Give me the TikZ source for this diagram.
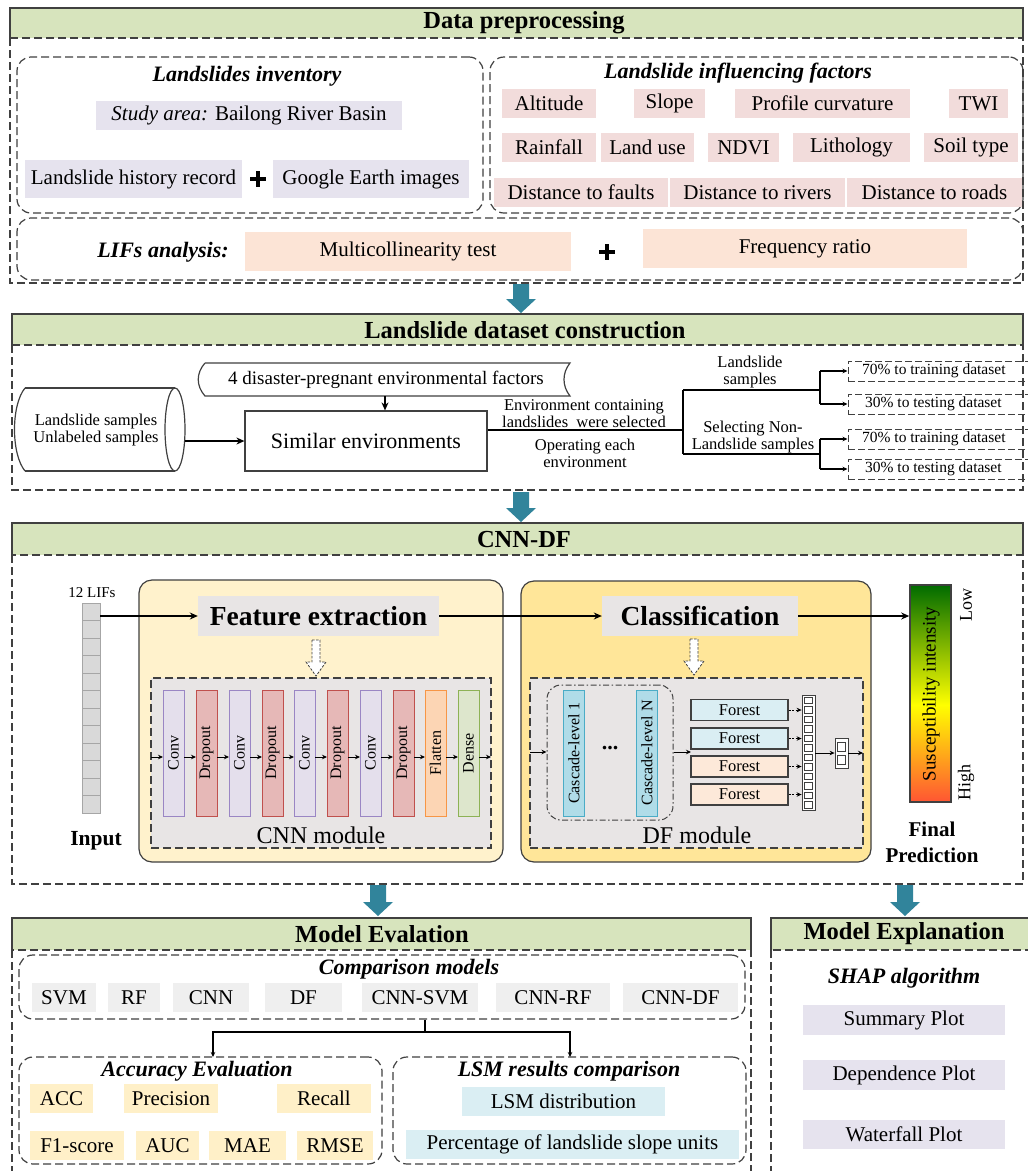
\documentclass[tikz,border=0pt]{standalone}
\usepackage{fontspec}
\setmainfont{Liberation Serif}
\usetikzlibrary{arrows.meta,calc}
\definecolor{barg}{HTML}{D7E4BD}
\definecolor{pinkf}{HTML}{F2DCDB}
\definecolor{lavf}{HTML}{E6E3EE}
\definecolor{peachf}{HTML}{FCE4D6}
\definecolor{teal1}{HTML}{31849B}
\definecolor{lgray}{HTML}{E8E5E5}
\definecolor{yel1}{HTML}{FFF2CC}
\definecolor{yel2}{HTML}{FFE699}
\definecolor{cmpf}{HTML}{EFEFEF}
\definecolor{accf}{HTML}{FFF0C8}
\definecolor{lsmf}{HTML}{DAEEF3}
\definecolor{lc}{HTML}{404040}
\definecolor{convf}{HTML}{E4DFEC}
\definecolor{convd}{HTML}{9A86C4}
\definecolor{dropf}{HTML}{E6B8B7}
\definecolor{dropd}{HTML}{C0504D}
\definecolor{flatf}{HTML}{FCD5B4}
\definecolor{flatd}{HTML}{F79646}
\definecolor{densef}{HTML}{DDE6CC}
\definecolor{densed}{HTML}{8DB255}
\definecolor{casf}{HTML}{B0DCE8}
\definecolor{casd}{HTML}{4BACC6}
\definecolor{forb}{HTML}{DAEEF3}
\definecolor{forp}{HTML}{FDE9D9}
\definecolor{cbg}{HTML}{006B00}
\definecolor{cbr}{HTML}{FF5533}
\definecolor{cellf}{HTML}{D9D9D9}
\newcommand\mybox[7][]{\node[#1, minimum width={#4-#2}, minimum height={#5-#3}] (#6) at ({(#2+#4)/2},{(#3+#5)/2}) {#7};}
\newcommand\tealarr[3]{\fill[teal1] ({#1-8},#2) -- ({#1+8},#2) -- ({#1+8},{#3-14}) -- ({#1+15},{#3-14}) -- (#1,#3) -- ({#1-15},{#3-14}) -- ({#1-8},{#3-14}) -- cycle;}
\newcommand\hollowarr[3]{\draw[lc, line width=0.8pt, dash pattern=on 2.5pt off 1.5pt, fill=white] ({#1-4},#2) -- ({#1+4},#2) -- ({#1+4},{#3-14}) -- ({#1+10},{#3-14}) -- (#1,#3) -- ({#1-10},{#3-14}) -- ({#1-4},{#3-14}) -- cycle;}
\newcommand\bplus[2]{\draw[line width=4.5pt] ({#1-8},#2) -- ({#1+8},#2) ({#1},{#2-8}) -- ({#1},{#2+8});}
\newcommand\secbar[5]{%
 \fill[barg] (#1,#2) rectangle (#3,#4);
 \draw[lc, line width=1.3pt] (#1,#4) -- (#1,#2) -- (#3,#2) -- (#3,#4);
 \draw[dbox] (#1,#4) rectangle (#3,#5);}
\tikzset{
 every node/.style={font=\fontsize{21}{24}\selectfont, inner sep=0pt},
 dbox/.style={draw=lc, line width=1.2pt, dash pattern=on 8pt off 4pt},
 rdbox/.style={dbox, rounded corners=14pt},
 ttl/.style={font=\fontsize{24.5}{26}\selectfont\bfseries},
 sub/.style={font=\fontsize{22}{24}\selectfont\bfseries\itshape},
 sm/.style={font=\fontsize{16.5}{17}\selectfont},
 dsbox/.style={draw=lc, line width=1pt, dash pattern=on 7pt off 3pt},
 dstext/.style={font=\fontsize{15.5}{16}\selectfont, anchor=west},
 pinkb/.style={fill=pinkf},
 lavb/.style={fill=lavf},
 peachb/.style={fill=peachf},
 cmpb/.style={fill=cmpf},
 accb/.style={fill=accf},
 lsmb/.style={fill=lsmf},
 arr/.style={-{Stealth[length=8pt,width=7pt]}, line width=1.2pt},
 sarr/.style={-{Stealth[length=5pt,width=4.5pt]}, line width=0.9pt},
 layer/.style={minimum width=126, minimum height=21, line width=1pt, font=\fontsize{16}{16}\selectfont},
 conv/.style={fill=convf, draw=convd},
 drop/.style={fill=dropf, draw=dropd},
 flat/.style={fill=flatf, draw=flatd},
 dense/.style={fill=densef, draw=densed},
 forest/.style={draw=lc, line width=1.4pt, minimum width=97, minimum height=21, font=\fontsize{16.5}{17}\selectfont},
 tiny/.style={draw=lc, line width=0.8pt, fill=white},
}
\begin{document}
\begin{tikzpicture}[x=1pt,y=-1pt]
\useasboundingbox (0,0) rectangle (1028,1171);
\fill[white] (0,0) rectangle (1028,1171);

% ===== Section 1: Data preprocessing
\secbar{10}{8}{1023}{38}{283}
\node[ttl] (t1) at (524,23) {Data preprocessing};
\mybox[rdbox]{17}{57}{483}{213}{inv}{}
\node[sub] (invt) at (247,76) {Landslides inventory};
\mybox[lavb]{96}{101}{402}{130}{study}{\textit{Study area:} Bailong River Basin}
\mybox[lavb]{25}{160}{242}{198}{hist}{Landslide history record}
\bplus{258}{179}
\mybox[lavb]{273}{160}{469}{198}{ge}{Google Earth images}

\mybox[rdbox]{490}{57}{1023}{213}{lif}{}
\node[sub] (lift) at (738,73) {Landslide influencing factors};
\mybox[pinkb]{502}{89}{596}{118}{f1}{Altitude}
\mybox[pinkb]{634}{89}{705}{118}{f2}{Slope}
\mybox[pinkb]{735}{89}{910}{118}{f3}{Profile curvature}
\mybox[pinkb]{949}{89}{1008}{118}{f4}{TWI}
\mybox[pinkb]{502}{133}{596}{162}{f5}{Rainfall}
\mybox[pinkb]{601}{133}{694}{162}{f6}{Land use}
\mybox[pinkb]{708}{133}{779}{162}{f7}{NDVI}
\mybox[pinkb]{793}{133}{910}{162}{f8}{Lithology}
\mybox[pinkb]{924}{133}{1018}{162}{f9}{Soil type}
\mybox[pinkb]{494}{178}{668}{207}{f10}{Distance to faults}
\mybox[pinkb]{670}{178}{845}{207}{f11}{Distance to rivers}
\mybox[pinkb]{847}{178}{1022}{207}{f12}{Distance to roads}

\mybox[rdbox]{17}{218}{1023}{280}{lifs}{}
\node[sub] (lifst) at (163,252) {LIFs analysis:};
\mybox[peachb]{245}{232}{571}{271}{mt}{Multicollinearity test}
\bplus{607}{252}
\mybox[peachb]{643}{229}{967}{268}{fr}{Frequency ratio}

\tealarr{521}{284}{313}

% ===== Section 2: Landslide dataset construction
\secbar{12}{314}{1023}{345}{490}
\node[ttl] (t2) at (525,330) {Landslide dataset construction};
\draw[lc, line width=1.2pt] (25,388) -- (175,388);
\draw[lc, line width=1.2pt] (25,471) -- (175,471);
\draw[lc, line width=1.2pt] (25,388) .. controls (11,405) and (11,454) .. (25,471);
\draw[lc, line width=1.2pt] (175,429.5) ellipse [x radius=10pt, y radius=41.5pt];
\node[sm, align=center] (cyl) at (96,430) {Landslide samples\\Unlabeled samples};
\coordinate (cylE) at (185,441);
\draw[lc, line width=1.2pt] (205,363) -- (570,363) .. controls (562,373) and (562,386) .. (570,396) -- (205,396) .. controls (196,386) and (196,373) .. (205,363);
\node[font=\fontsize{19}{20}\selectfont] (fac) at (386,380) {4 disaster-pregnant environmental factors};
\coordinate (facS) at (385,396);
\mybox[draw=lc, line width=1.2pt, font=\fontsize{22}{24}\selectfont]{245}{411}{487}{471}{sim}{Similar environments}
\draw[arr] (facS) -- (facS|-sim.north);
\draw[arr] (cylE) -- (sim.west|-cylE);
\coordinate (br) at (683,430);
\coordinate (brT) at (683,390);
\coordinate (brB) at (683,454);
\draw[line width=1.2pt] (sim.east|-br) -- (br);
\draw[line width=1.2pt] (brT) -- (brB);
\node[sm, align=center] (envl) at (584,414) {Environment containing\\landslides\ \ were selected};
\node[sm, align=center] (opl) at (585,453) {Operating each\\environment};
\node[sm, align=center] (lsl) at (750,372) {Landslide\\samples};
\node[sm, align=center] (nll) at (753,437) {Selecting Non-\\Landslide samples};
\mybox[dsbox]{848}{361}{1040}{381}{d1}{}
\mybox[dsbox]{848}{394}{1040}{414}{d2}{}
\mybox[dsbox]{848}{429}{1040}{449}{d3}{}
\mybox[dsbox]{848}{459}{1040}{479}{d4}{}
\node[dstext] (d1t) at (862,371) {70\% to training dataset};
\node[dstext] (d2t) at (865,404) {30\% to testing dataset};
\node[dstext] (d3t) at (862,439) {70\% to training dataset};
\node[dstext] (d4t) at (865,469) {30\% to testing dataset};
\coordinate (b1) at (820,390);
\coordinate (b2) at (820,454);
\draw[line width=1.2pt] (brT) -- (b1);
\draw[line width=1.2pt] (brB) -- (b2);
\draw[line width=1.2pt] (b1|-d1.west) -- (b1|-d2.west);
\draw[line width=1.2pt] (b2|-d3.west) -- (b2|-d4.west);
\draw[sarr, line width=1.2pt] (b1|-d1.west) -- (d1.west);
\draw[sarr, line width=1.2pt] (b1|-d2.west) -- (d2.west);
\draw[sarr, line width=1.2pt] (b2|-d3.west) -- (d3.west);
\draw[sarr, line width=1.2pt] (b2|-d4.west) -- (d4.west);

\tealarr{521}{492}{522}

% ===== Section 3: CNN-DF
\secbar{12}{523}{1023}{555}{884}
\node[ttl] (t3) at (524,539) {CNN-DF};
% input
\node[font=\fontsize{15}{16}\selectfont] (lifs12) at (92,593) {12 LIFs};
\foreach \i in {1,...,12}
  \node[fill=cellf, draw=gray!70, line width=0.8pt, minimum width=18, minimum height=17.5] (c\i) at (91,{603+17.5*(\i-0.5)}) {};
\node[font=\fontsize{21.5}{22}\selectfont\bfseries] (inl) at (96,841) {Input};
% yellow boxes
\mybox[fill=yel1, draw=lc, line width=1.2pt, rounded corners=13pt]{139}{580}{503}{862}{fexb}{}
\mybox[fill=yel2, draw=lc, line width=1.2pt, rounded corners=13pt]{521}{581}{871}{862}{clsb}{}
\mybox[fill=lgray, font=\fontsize{27.5}{28}\selectfont\bfseries]{198}{596}{439}{636}{fe}{Feature extraction}
\mybox[fill=lgray, font=\fontsize{27.5}{28}\selectfont\bfseries]{602}{596}{798}{636}{cls}{Classification}
\draw[arr] (c1.east|-fe.west) -- (fe.west);
\draw[arr] (fe.east) -- (cls.west);
\hollowarr{316}{640}{676}
\hollowarr{694}{639}{675}
% CNN module
\mybox[dbox, fill=lgray]{151}{678}{491}{848}{cnnm}{}
\node[font=\fontsize{24}{24}\selectfont] (cnnl) at (321,835) {CNN module};
\foreach \x/\t/\s [count=\i] in {163/Conv/conv,196/Dropout/drop,229/Conv/conv,262/Dropout/drop,294/Conv/conv,327/Dropout/drop,360/Conv/conv,393/Dropout/drop,425/Flatten/flat,458/Dense/dense}
  \node[layer, \s, rotate=90] (L\i) at ({\x+10.5},753) {\t};
\foreach \a/\b in {151/163,184/196,217/229,250/262,283/294,315/327,348/360,381/393,414/425,446/458,479/491}
  \draw[sarr] (\a,757) -- (\b,757);
% DF module
\mybox[dbox, fill=lgray]{530}{678}{863}{848}{dfm}{}
\node[font=\fontsize{24}{24}\selectfont] (dfl) at (697,835) {DF module};
\mybox[draw=lc, line width=1pt, dash pattern=on 6pt off 2.5pt on 1.5pt off 2.5pt, rounded corners=14pt]{547}{685}{673}{820}{casc}{}
\node[layer, fill=casf, draw=casd, rotate=90] (cas1) at (574,753) {Cascade-level 1};
\node[layer, fill=casf, draw=casd, rotate=90] (casN) at (647,753) {Cascade-level N};
\node[font=\fontsize{22}{22}\selectfont\bfseries] (dots) at (610,748) {...};
\draw[sarr] (530,752) -- (casc.west|-0,752);
\node[forest, fill=forb] (F1) at (739.5,710) {Forest};
\node[forest, fill=forb] (F2) at (739.5,738.5) {Forest};
\node[forest, fill=forp] (F3) at (739.5,766.5) {Forest};
\node[forest, fill=forp] (F4) at (739.5,794.5) {Forest};
\draw[sarr] (casc.east|-0,752) -- (691,752);
\node[tiny, minimum width=13, minimum height=115] (vec) at (808.5,752.5) {};
\foreach \k in {0,...,11}
  \draw[lc, line width=0.7pt] (804.5,{697+\k*9.5}) rectangle (812.5,{703.5+\k*9.5});
\foreach \i in {1,...,4}
  \draw[sarr, dash pattern=on 2pt off 1.5pt] (F\i.east) -- (vec.west|-F\i.east);
\node[tiny, minimum width=13, minimum height=30] (outv) at (841.5,753) {};
\draw[lc, line width=0.7pt] (837.5,742) rectangle (845.5,751);
\draw[lc, line width=0.7pt] (837.5,755) rectangle (845.5,764);
\draw[sarr] (vec.east|-outv.west) -- (outv.west);
\draw[sarr] (outv.east) -- (863,753);
% color bar
\shade[top color=cbg, bottom color=yellow] (910,585) rectangle (951,705);
\shade[top color=yellow, bottom color=cbr] (910,705) rectangle (951,802);
\node[draw=lc, line width=1.6pt, minimum width=41, minimum height=217] (cb) at (930.5,693.5) {};
\node[font=\fontsize{19}{19}\selectfont, rotate=90] (sus) at (931,694) {Susceptibility intensity};
\node[font=\fontsize{18}{18}\selectfont, rotate=90] (low) at (966,605) {Low};
\node[font=\fontsize{18}{18}\selectfont, rotate=90] (high) at (966,782) {High};
\draw[arr] (cls.east) -- (cb.west|-cls.east);
\node[font=\fontsize{21}{26}\selectfont\bfseries, align=center] (fp) at (932,842) {Final\\Prediction};

\tealarr{378}{885}{916}
\tealarr{905}{885}{916}

% ===== Section 4: Model Evaluation
\secbar{12}{918}{751}{950}{1190}
\node[ttl] (t4) at (382,934) {Model Evalation};
\mybox[rdbox]{19}{955}{745}{1019}{cmp}{}
\node[sub] (cmpt) at (409,969) {Comparison models};
\mybox[cmpb]{32}{983}{96}{1012}{m1}{SVM}
\mybox[cmpb]{108}{983}{160}{1012}{m2}{RF}
\mybox[cmpb]{173}{983}{249}{1012}{m3}{CNN}
\mybox[cmpb]{265}{983}{342}{1012}{m4}{DF}
\mybox[cmpb]{362}{983}{478}{1012}{m5}{CNN-SVM}
\mybox[cmpb]{496}{983}{610}{1012}{m6}{CNN-RF}
\mybox[cmpb]{623}{983}{738}{1012}{m7}{CNN-DF}
\mybox[rdbox]{19}{1057}{382}{1164}{acc}{}
\node[sub] (acct) at (197,1071) {Accuracy Evaluation};
\mybox[rdbox]{393}{1057}{746}{1164}{lsm}{}
\node[sub] (lsmt) at (569,1071) {LSM results comparison};
\coordinate (j) at (425,1032);
\coordinate (aT) at (213,1057);
\coordinate (lT) at (570,1057);
\draw[line width=1.1pt] (cmp.south-|j) -- (j);
\draw[sarr, line width=1.1pt] (j) -| (aT);
\draw[sarr, line width=1.1pt] (j) -| (lT);
\mybox[accb]{30}{1084}{93}{1113}{a1}{ACC}
\mybox[accb]{124}{1084}{218}{1113}{a2}{Precision}
\mybox[accb]{277}{1084}{371}{1113}{a3}{Recall}
\mybox[accb]{30}{1131}{124}{1160}{a4}{F1-score}
\mybox[accb]{136}{1131}{199}{1160}{a5}{AUC}
\mybox[accb]{209}{1131}{286}{1160}{a6}{MAE}
\mybox[accb]{297}{1131}{373}{1160}{a7}{RMSE}
\mybox[lsmb]{462}{1087}{665}{1116}{l1}{LSM distribution}
\mybox[lsmb]{406}{1130}{739}{1159}{l2}{Percentage of landslide slope units}

% ===== Section 5: Model Explanation
\secbar{771}{918}{1040}{950}{1190}
\node[ttl] (t5) at (904,934) {Model Explanation};
\node[sub] (shap) at (904,978) {SHAP algorithm};
\mybox[lavb]{803}{1005}{1005}{1035}{s1}{Summary Plot}
\mybox[lavb]{803}{1060}{1005}{1090}{s2}{Dependence Plot}
\mybox[lavb]{803}{1120}{1005}{1149}{s3}{Waterfall Plot}
\end{tikzpicture}
\end{document}
